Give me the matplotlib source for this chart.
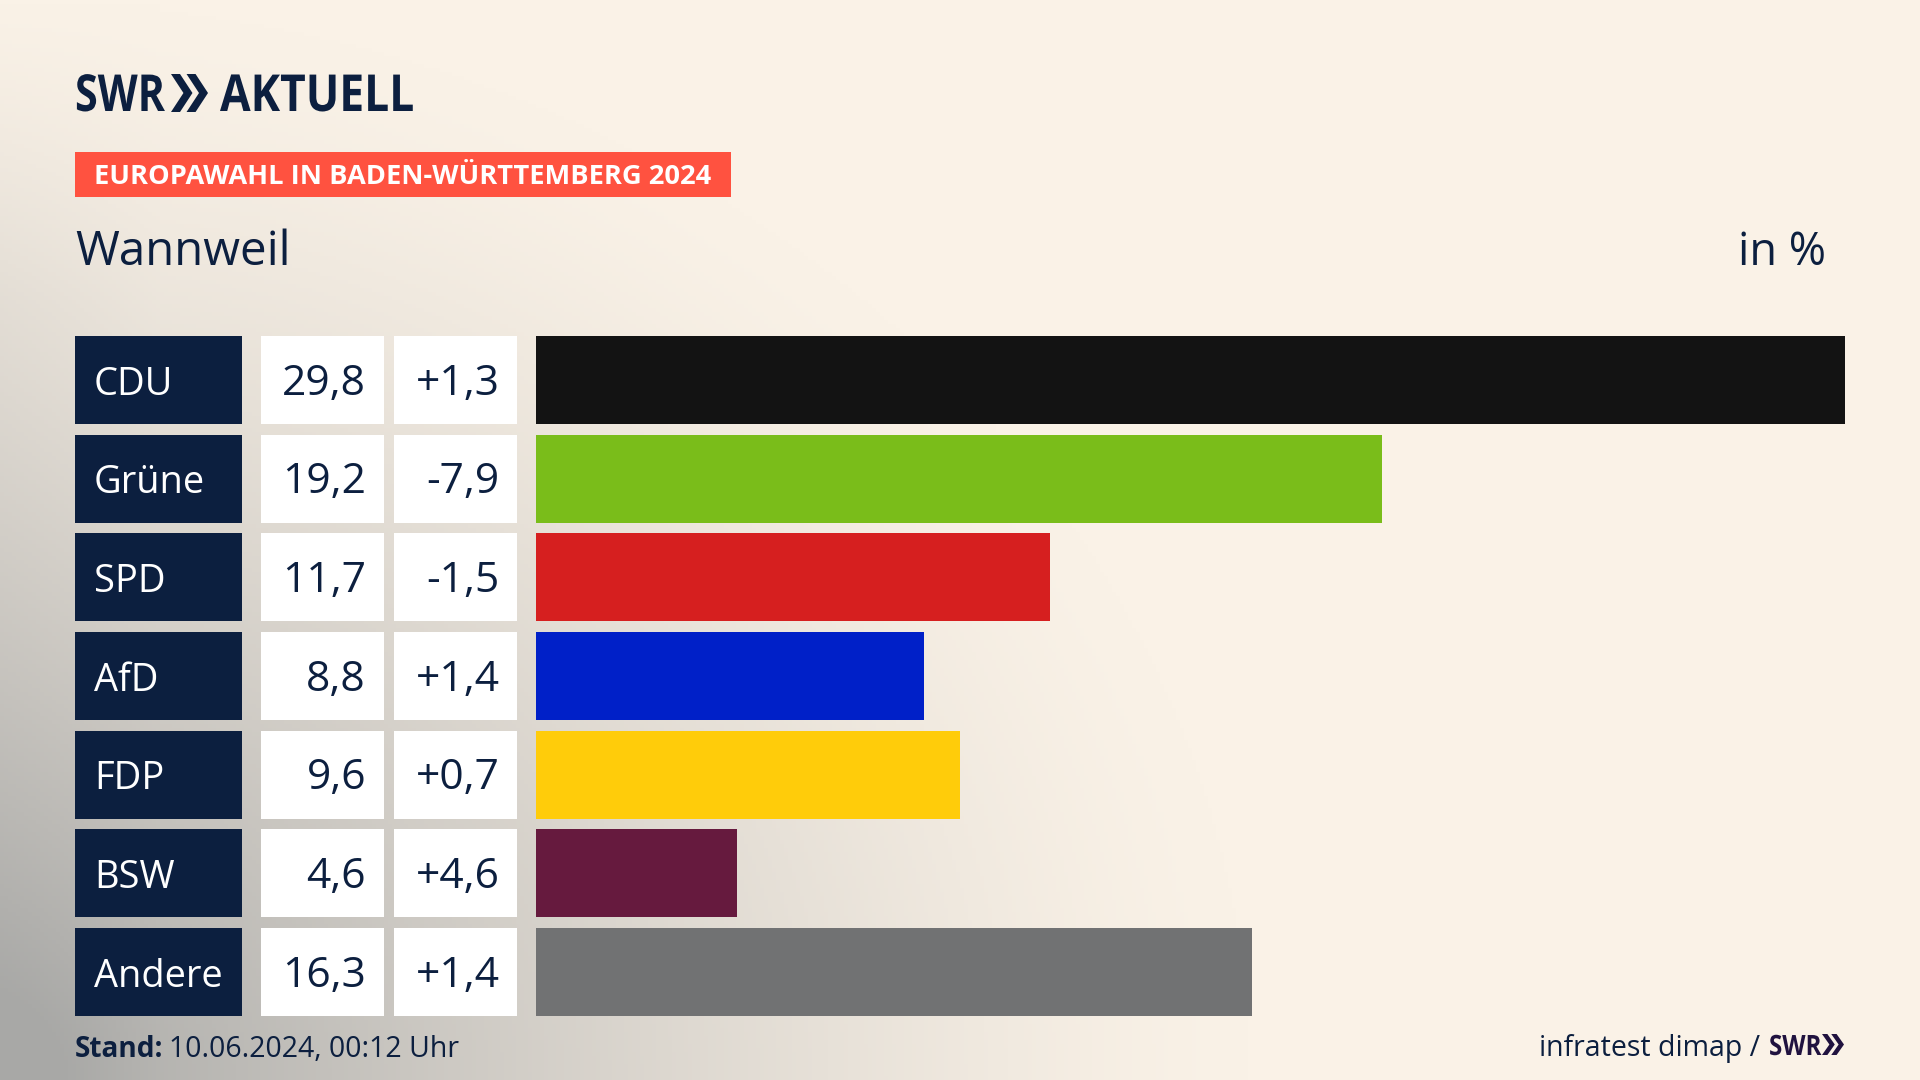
import matplotlib
matplotlib.use('Agg')
import matplotlib.pyplot as plt
from matplotlib.patches import Polygon
from matplotlib.patheffects import AbstractPathEffect
from matplotlib.transforms import Affine2D
import numpy as np

parties = ['CDU', 'Grüne', 'SPD', 'AfD', 'FDP', 'BSW', 'Andere']
shares = ['29,8', '19,2', '11,7', '8,8', '9,6', '4,6', '16,3']
changes = ['+1,3', '-7,9', '-1,5', '+1,4', '+0,7', '+4,6', '+1,4']
# bar lengths, slightly finer than the rounded labels
bar_values = [29.8, 19.26, 11.7, 8.84, 9.65, 4.57, 16.31]
colors = ['#131313', '#7abd1a', '#d61f1f', '#0020c8', '#ffcc0a', '#661a3e', '#717273']

NAVY = '#0c1f3f'
W, H = 1920, 1080
TOP, BOTTOM = 336.0, 1016.0
FONT = 'Open Sans'

plt.rcParams['font.family'] = FONT
fig = plt.figure(figsize=(19.2, 10.8), dpi=100)


def px(size):
    return size * 0.72


class Squeeze(AbstractPathEffect):
    # the logo lettering is much narrower than any installed font
    def __init__(self, sx):
        super().__init__()
        self.sx = sx

    def draw_path(self, renderer, gc, tpath, affine, rgbFace=None):
        x0 = affine.transform([(0, 0)])[0, 0]
        squeezed = affine + Affine2D().translate(-x0, 0).scale(self.sx, 1).translate(x0, 0)
        renderer.draw_path(gc, tpath, squeezed, rgbFace)


# background with the grey shadow in the lower left corner
page = fig.add_axes([0, 0, 1, 1])
page.set_xlim(0, W)
page.set_ylim(H, 0)
page.axis('off')
xx, yy = np.meshgrid(np.linspace(0, W, 480), np.linspace(0, H, 270))
d = np.sqrt((xx / 1250) ** 2 + ((H - yy) / 1080) ** 2)
a = np.clip(1 - d, 0, 1) ** 1.35
a = a + 0.10 * np.clip(1 - xx / 160, 0, 1) * np.clip(yy / 300, 0, 1)
cream = np.array([250, 242, 231]) / 255
grey = np.array([168, 168, 166]) / 255
img = cream + (grey - cream) * np.clip(a, 0, 1)[..., None]
page.imshow(img, extent=[0, W, H, 0], aspect='auto', zorder=0)


def chevrons(x, y, w, h, color):
    # two arrow heads of the SWR logo
    cw = w * 0.58
    t = cw * 0.42
    for off in (0, w - cw):
        pts = [(x + off, y), (x + off + t, y), (x + off + cw, y + h / 2),
               (x + off + t, y + h), (x + off, y + h), (x + off + cw - t, y + h / 2)]
        page.add_patch(Polygon(pts, closed=True, fc=color, ec='none', zorder=2))


# logo
page.text(75, 111, 'SWR', fontsize=px(51), fontweight='bold', color=NAVY, va='baseline',
          path_effects=[Squeeze(0.81)])
chevrons(171, 74, 37, 38, NAVY)
page.text(220, 111, 'AKTUELL', fontsize=px(51), fontweight='bold', color=NAVY, va='baseline',
          path_effects=[Squeeze(0.87)])

# header
page.fill_between([75, 731], 152, 197, color='#ff5240', lw=0, zorder=1)
page.text(94, 184, 'EUROPAWAHL IN BADEN-WÜRTTEMBERG 2024', fontsize=px(27.3), fontweight='bold',
          color='white', va='baseline', zorder=3)
page.text(75, 265, 'Wannweil', fontsize=px(47.5), color=NAVY, va='baseline')
page.text(1826, 265, 'in %', fontsize=px(45), color=NAVY, va='baseline', ha='right')

# footer
page.text(75, 1057, 'Stand:', fontsize=px(28), fontweight='bold', color=NAVY, va='baseline')
page.text(169, 1057, '10.06.2024, 00:12 Uhr', fontsize=px(28.5), color=NAVY, va='baseline')
page.text(1760, 1056, 'infratest dimap /', fontsize=px(28.5), color=NAVY, va='baseline', ha='right')
page.text(1769, 1055, 'SWR', fontsize=px(28), fontweight='bold', color='#20123f', va='baseline',
          path_effects=[Squeeze(0.86)])
chevrons(1822, 1034, 22, 21, '#20123f')

n = len(parties)
rows = np.arange(n)
ylim = (n - 1 + 0.445, -0.445)

# table part left of the bars, x in pixels
tab = fig.add_axes([0, 1 - BOTTOM / H, 536 / W, (BOTTOM - TOP) / H])
tab.set_xlim(0, 536)
tab.set_ylim(*ylim)
tab.axis('off')
tab.patch.set_alpha(0)
tab.barh(rows, 167, left=75, height=0.89, color=NAVY)
tab.barh(rows, 122.5, left=261, height=0.89, color='white')
tab.barh(rows, 123, left=394, height=0.89, color='white')
for i in rows:
    tab.text(94, i + 0.15, parties[i], fontsize=px(38), color='white', va='baseline')
    tab.text(366, i + 0.15, shares[i], fontsize=px(42.5), color=NAVY, va='baseline', ha='right')
    tab.text(499.5, i + 0.15, changes[i], fontsize=px(42.5), color=NAVY, va='baseline', ha='right')

# bars
ax = fig.add_axes([536 / W, 1 - BOTTOM / H, (1845 - 536) / W, (BOTTOM - TOP) / H])
ax.patch.set_alpha(0)
ax.barh(rows, bar_values, height=0.89, color=colors)
ax.set_xlim(0, max(bar_values))
ax.set_ylim(*ylim)
ax.axis('off')

fig.savefig('out.png', dpi=100)
